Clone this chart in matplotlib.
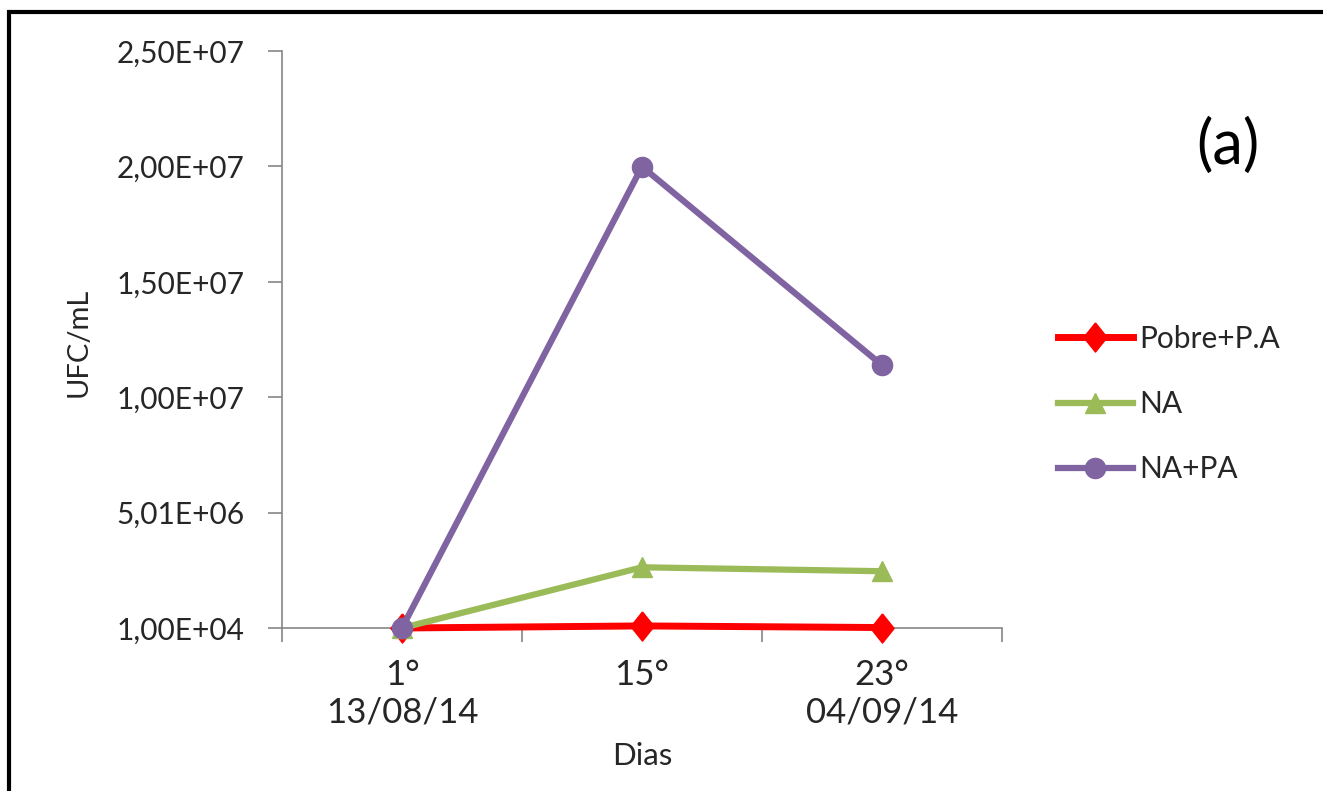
import matplotlib
matplotlib.use("Agg")
import matplotlib.pyplot as plt
from matplotlib.patches import Rectangle
from matplotlib.ticker import FixedLocator, FuncFormatter
import numpy as np

# ---- data ----
categories = ["1°\n13/08/14", "15°", "23°\n04/09/14"]
pobre_pa = [1.0e4, 1.0e5, 3.0e4]
na = [1.0e4, 2.64e6, 2.47e6]
na_pa = [1.0e4, 2.0e7, 1.14e7]
y_ticks = [1.0e4, 5.01e6, 1.001e7, 1.501e7, 2.001e7, 2.501e7]
series_names = ["Pobre+P.A", "NA", "NA+PA"]

plt.rcParams['font.family'] = ['Lato', 'DejaVu Sans']

W, H = 1323, 791
fig = plt.figure(figsize=(W / 100, H / 100), dpi=100)
ax = fig.add_axes([282 / W, 1 - 628 / H, (1002 - 282) / W, (628 - 51) / H])

diamond = [(0, 1), (0.8, 0), (0, -1), (-0.8, 0), (0, 1)]

x = np.arange(len(categories))
ax.plot(x, pobre_pa, color="#FF0000", lw=5, marker=diamond, markersize=21,
        label=series_names[0], zorder=3, clip_on=False)
ax.plot(x, na, color="#9BBB59", lw=4.5, marker="^", markersize=14,
        label=series_names[1], zorder=4, clip_on=False)
ax.plot(x, na_pa, color="#8064A2", lw=4.5, marker="o", markersize=14.5,
        label=series_names[2], zorder=5, clip_on=False)

ax.set_xlim(-0.5, 2.5)
ax.set_ylim(y_ticks[0], y_ticks[-1])

ax.yaxis.set_major_locator(FixedLocator(y_ticks))
ax.yaxis.set_major_formatter(FuncFormatter(lambda v, p: ("%.2E" % v).replace(".", ",")))
ax.set_xticks(x)
ax.set_xticklabels(categories)
ax.set_xticks([-0.5, 0.5, 1.5, 2.5], minor=True)

ax.tick_params(axis="y", which="major", direction="out", length=10, width=1.2,
               color="#868686", labelsize=21.5, labelcolor="#262626", pad=17)
ax.tick_params(axis="x", which="major", length=0, labelsize=25, labelcolor="#262626", pad=22)
ax.tick_params(axis="x", which="minor", direction="out", length=10, width=1.2, color="#868686")

for s in ["top", "right"]:
    ax.spines[s].set_visible(False)
for s in ["left", "bottom"]:
    ax.spines[s].set_color("#868686")
    ax.spines[s].set_linewidth(1.2)
for sp in ax.spines.values():
    sp.set_zorder(1)

for lab in ax.get_xticklabels():
    lab.set_linespacing(1.22)

fig.text(79 / W, 1 - 342 / H, "UFC/mL", rotation=90, ha="center", va="center",
         fontsize=21, color="#262626")
fig.text(642 / W, 1 - 756 / H, "Dias", ha="center", va="center", fontsize=22.5, color="#262626")
fig.text(1228 / W, 1 - 146 / H, "(a)", ha="center", va="center", fontsize=44, color="#000000")

leg = ax.legend(loc="center left", bbox_to_anchor=(1058 / W, 1 - 404 / H),
                bbox_transform=fig.transFigure, frameon=False, fontsize=21.5,
                handlelength=2.5, handletextpad=0.22, labelspacing=1.25,
                borderaxespad=0, borderpad=0)
for t in leg.get_texts():
    t.set_color("#262626")

fig.patches.append(Rectangle((8.5 / W, -0.5), 2.0, (1 - 11.5 / H) + 0.5,
                             transform=fig.transFigure, fill=False,
                             edgecolor="black", linewidth=3, clip_on=False))

fig.savefig("out.png", dpi=100, facecolor="white")
